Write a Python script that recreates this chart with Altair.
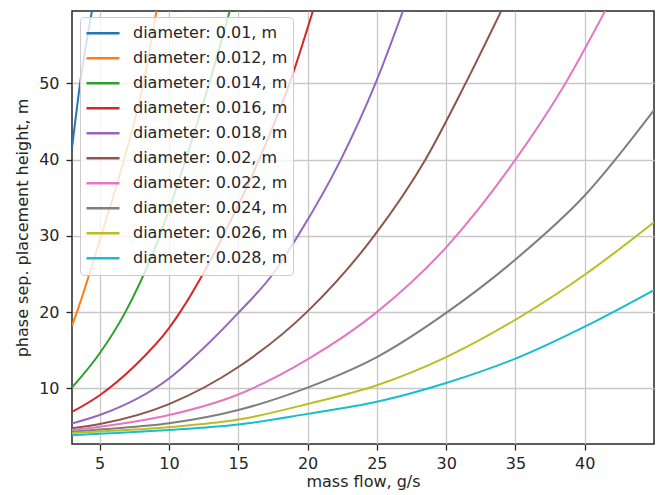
import altair as alt
import pandas as pd

# ---- data ----
labels = [
    "diameter: 0.01, m", "diameter: 0.012, m", "diameter: 0.014, m",
    "diameter: 0.016, m", "diameter: 0.018, m", "diameter: 0.02, m",
    "diameter: 0.022, m", "diameter: 0.024, m", "diameter: 0.026, m",
    "diameter: 0.028, m",
]
colors = ["#1f77b4", "#ff7f0e", "#2ca02c", "#d62728", "#9467bd",
          "#8c564b", "#e377c2", "#7f7f7f", "#bcbd22", "#17becf"]

x_d010 = [3, 3.6, 4.45]
y_d010 = [41.5, 50.2, 59.6]
x_d012 = [3, 3.45, 5.1, 6.75, 8.15, 9.1]
y_d012 = [18.2, 20.5, 30, 40, 50, 59.6]
x_d014 = [3, 5, 6.85, 9.33, 11.2, 12.9, 14.4]
y_d014 = [10.1, 14.6, 20, 30, 40, 50, 59.6]
x_d016 = [3, 5, 7.5, 10, 10.8, 12.6, 13.9, 16.5, 18.7, 20.4]
y_d016 = [6.9, 9.1, 12.9, 17.9, 20, 25.5, 30, 40, 50, 59.6]
x_d018 = [3, 5, 10, 12.5, 15, 17.5, 19.3, 22.4, 24.9, 26.9]
y_d018 = [5.4, 6.5, 11.3, 15.3, 19.9, 25.0, 30, 40, 50, 59.6]
x_d020 = [3, 5, 10, 15, 20, 24.8, 28.5, 31.4, 34.0]
y_d020 = [4.76, 5.32, 7.94, 12.8, 20.1, 30, 40, 50, 59.6]
x_d022 = [3, 5, 10, 15, 20, 25, 30, 35, 38.6, 41.5]
y_d022 = [4.53, 4.97, 6.5, 9.2, 13.8, 20.0, 28.5, 40, 50, 59.6]
x_d024 = [3, 5, 10, 15, 20, 25, 30, 35, 40, 45]
y_d024 = [4.3, 4.6, 5.41, 7.16, 10.1, 14.1, 19.9, 26.9, 35.3, 46.5]
x_d026 = [3, 5, 10, 15, 20, 25, 30, 35, 40, 45]
y_d026 = [4.15, 4.35, 4.9, 5.9, 7.94, 10.4, 14.1, 19.0, 24.9, 31.8]
x_d028 = [3, 5, 10, 15, 20, 25, 30, 35, 40, 45]
y_d028 = [3.85, 4.05, 4.53, 5.25, 6.65, 8.24, 10.7, 13.9, 18.1, 22.9]

x_ticks = [5, 10, 15, 20, 25, 30, 35, 40]
y_ticks = [10, 20, 30, 40, 50]

series_x = [x_d010, x_d012, x_d014, x_d016, x_d018, x_d020, x_d022, x_d024, x_d026, x_d028]
series_y = [y_d010, y_d012, y_d014, y_d016, y_d018, y_d020, y_d022, y_d024, y_d026, y_d028]

rows = []
for lab, xs, ys in zip(labels, series_x, series_y):
    for xv, yv in zip(xs, ys):
        rows.append({"x": xv, "y": yv, "series": lab})
df = pd.DataFrame(rows)

font = "DejaVu Sans"
text_color = "#262626"

chart = alt.Chart(df).mark_line(strokeWidth=2, clip=True, interpolate="monotone").encode(
    x=alt.X("x:Q",
            scale=alt.Scale(domain=[3, 45], nice=False, zero=False),
            axis=alt.Axis(values=x_ticks, title="mass flow, g/s", labelPadding=5,
                          titlePadding=2)),
    y=alt.Y("y:Q",
            scale=alt.Scale(domain=[2.7, 59.5], nice=False, zero=False),
            axis=alt.Axis(values=y_ticks, title="phase sep. placement height, m",
                          labelPadding=7, titlePadding=8)),
    color=alt.Color("series:N",
                    scale=alt.Scale(domain=labels, range=colors),
                    legend=alt.Legend(
                        title=None, orient="none", legendX=8, legendY=6,
                        symbolType="stroke", symbolSize=1089, symbolStrokeWidth=2.5,
                        labelFontSize=16, labelFont=font, labelColor=text_color,
                        labelOffset=12, labelLimit=300, padding=5, rowPadding=2,
                        clipHeight=22.4, fillColor="rgba(255,255,255,0.8)",
                        strokeColor="#cccccc", cornerRadius=4)),
).properties(
    width=582, height=433,
    autosize=alt.AutoSizeParams(type="none"),
    padding={"left": 64, "top": 3, "right": 2, "bottom": 50},
).configure_view(
    stroke="#262626", strokeWidth=1.5
).configure_axis(
    labelFont=font, labelFontSize=16, labelColor=text_color,
    titleFont=font, titleFontSize=16, titleFontWeight="normal", titleColor=text_color,
    tickColor="#262626", tickSize=6, tickWidth=1.3,
    domain=False, grid=True, gridColor="#c8c8c8", gridWidth=1.3,
)

chart.save("out.html", embed_options={"renderer": "svg", "actions": False})
